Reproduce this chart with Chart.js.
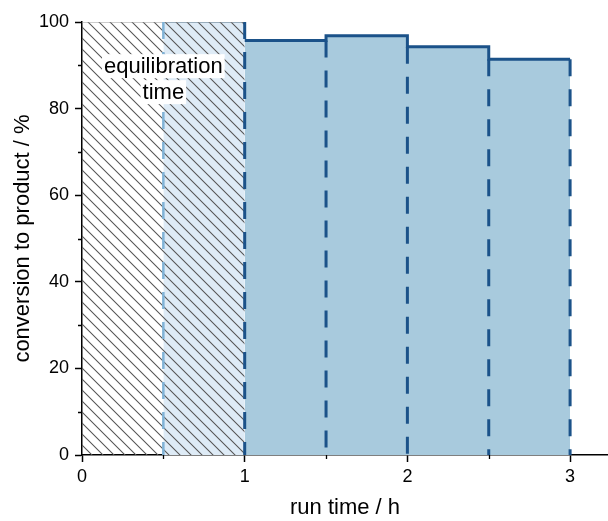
<!DOCTYPE html>
<html>
<head>
<meta charset="utf-8">
<script src="https://cdn.jsdelivr.net/npm/chart.js@4/dist/chart.umd.min.js"></script>
<style>
html,body{margin:0;padding:0;background:#fff;}
#wrap{width:608px;height:521px;}
</style>
</head>
<body>
<div id="wrap"><canvas id="c" width="608" height="521"></canvas></div>
<script>
// ---- data ----
const binStart = [1, 1.5, 2, 2.5];          // run time bin start / h
const binEnd = [1.5, 2, 2.5, 3];            // run time bin end / h
const conversion = [95.7, 96.8, 94.3, 91.4]; // conversion to product / %
const equilStart = [0, 0.5];                // equilibration period bins
const equilEnd = [0.5, 1];
const equilValue = [100, 100];
const xTickLabels = [0, 1, 2, 3];
const yTickLabels = [0, 20, 40, 60, 80, 100];
const xTitle = 'run time / h';
const yTitle = 'conversion to product / %';
const noteLines = ['equilibration', 'time'];

// ---- styles ----
const FONT = "'Liberation Sans', Arial, sans-serif";
const dark = '#1b5289';
const barFill = '#a8cadd';
const lightFill = '#deebf6';
const lightLine = '#80b3d7';

function hatch() {
  const s = 11;
  const c = document.createElement('canvas');
  c.width = s; c.height = s;
  const g = c.getContext('2d');
  g.strokeStyle = '#555';
  g.lineWidth = 1.05;
  g.beginPath();
  g.moveTo(0, 0); g.lineTo(s, s);
  g.moveTo(-1, s - 1); g.lineTo(1, s + 1);
  g.moveTo(s - 1, -1); g.lineTo(s + 1, 1);
  g.stroke();
  return g.createPattern(c, 'repeat');
}

// step outline of the measured bins
const stepPts = [];
binStart.forEach((b, i) => {
  stepPts.push({x: b, y: conversion[i]});
  stepPts.push({x: binEnd[i], y: conversion[i]});
});

// vertical dashed separators
const sepDatasets = [];
const sepX = [binStart[0]].concat(binEnd);
sepX.forEach((xv, k) => {
  let top;
  if (k === 0) top = equilValue[equilValue.length - 1];
  else {
    const left = conversion[k - 1];
    const right = k < conversion.length ? conversion[k] : left;
    top = Math.min(left, right);
  }
  sepDatasets.push({
    data: [{x: xv, y: top}, {x: xv, y: 0}],
    borderColor: dark, borderWidth: 3, borderDash: [17, 13],
    borderCapStyle: 'butt', pointRadius: 0, fill: false, order: 1
  });
});

const datasets = [
  { // light fill of second equilibration bin
    data: [{x: equilStart[1], y: equilValue[1]}, {x: equilEnd[1], y: equilValue[1]}],
    borderColor: lightLine, borderWidth: 1.5, backgroundColor: lightFill,
    fill: 'origin', pointRadius: 0, order: 20
  },
  { // hatched equilibration area
    data: [{x: equilStart[0], y: equilValue[0]}, {x: equilEnd[1], y: equilValue[1]}],
    borderColor: '#9a9a9a', borderWidth: 1, backgroundColor: hatch(),
    fill: 'origin', pointRadius: 0, order: 19
  },
  { // left dashed edge of second equilibration bin
    data: [{x: equilStart[1], y: equilValue[1]}, {x: equilStart[1], y: 0}],
    borderColor: lightLine, borderWidth: 2.5, borderDash: [17, 13],
    pointRadius: 0, fill: false, order: 18
  },
  { // measured bins
    data: stepPts,
    borderColor: dark, borderWidth: 3, backgroundColor: barFill,
    fill: 'origin', pointRadius: 0, order: 10, borderJoinStyle: 'miter'
  }
].concat(sepDatasets);

const minorTicks = {
  id: 'minorTicks',
  afterDraw(chart) {
    const {ctx, scales: {x, y}} = chart;
    ctx.save();
    ctx.strokeStyle = '#000';
    ctx.lineWidth = 1.3;
    ctx.beginPath();
    x.ticks.forEach(t => {
      if (!xTickLabels.includes(t.value)) {
        const px = Math.round(x.getPixelForValue(t.value)) + 0.5;
        ctx.moveTo(px, y.bottom); ctx.lineTo(px, y.bottom + 4);
      }
    });
    y.ticks.forEach(t => {
      if (!yTickLabels.includes(t.value)) {
        const py = Math.round(y.getPixelForValue(t.value)) + 0.5;
        ctx.moveTo(x.left, py); ctx.lineTo(x.left - 4, py);
      }
    });
    ctx.stroke();
    ctx.restore();
  }
};

const note = {
  id: 'note',
  afterDatasetsDraw(chart) {
    const {ctx, scales: {x, y}} = chart;
    const cx = x.getPixelForValue((equilStart[0] + equilEnd[1]) / 2);
    const ys = [y.getPixelForValue(89.8), y.getPixelForValue(83.8)];
    ctx.save();
    ctx.font = '22px ' + FONT;
    ctx.textAlign = 'center';
    ctx.textBaseline = 'middle';
    noteLines.forEach((t, i) => {
      const w = ctx.measureText(t).width;
      ctx.fillStyle = '#fff';
      ctx.fillRect(cx - w / 2 - 2, ys[i] - 12, w + 4, 24);
    });
    ctx.fillStyle = '#000';
    noteLines.forEach((t, i) => ctx.fillText(t, cx, ys[i] + 1));
    ctx.restore();
  }
};

new Chart(document.getElementById('c'), {
  type: 'line',
  data: {datasets},
  options: {
    responsive: false,
    animation: false,
    layout: {padding: {top: 22, right: 0, left: 0, bottom: 0}},
    plugins: {legend: {display: false}, tooltip: {enabled: false}},
    elements: {line: {tension: 0}},
    scales: {
      x: {
        type: 'linear', min: 0, max: 3.233,
        afterFit(s) { s.height = 66; },
        border: {display: true, color: '#000', width: 1.5},
        grid: {drawOnChartArea: false, drawTicks: true, tickLength: 7, tickWidth: 1.5,
               tickColor: c => (c.tick && xTickLabels.includes(c.tick.value)) ? '#000' : 'rgba(0,0,0,0)'},
        ticks: {stepSize: 0.5, includeBounds: false, autoSkip: false, maxRotation: 0, padding: 4,
                color: '#000', font: {family: FONT, size: 18},
                callback: v => xTickLabels.includes(v) ? String(v) : ''},
        title: {display: true, text: xTitle, color: '#000', font: {family: FONT, size: 22, lineHeight: 1.2},
                padding: {top: 0, bottom: 0}}
      },
      y: {
        type: 'linear', min: 0, max: 100,
        afterFit(s) { s.width = 82; },
        border: {display: true, color: '#000', width: 1.5},
        grid: {drawOnChartArea: false, drawTicks: true, tickLength: 7, tickWidth: 1.5,
               tickColor: c => (c.tick && yTickLabels.includes(c.tick.value)) ? '#000' : 'rgba(0,0,0,0)'},
        ticks: {stepSize: 10, autoSkip: false, padding: 6, color: '#000', font: {family: FONT, size: 18},
                callback: v => yTickLabels.includes(v) ? String(v) : ''},
        title: {display: true, text: yTitle, color: '#000', font: {family: FONT, size: 22, lineHeight: 1.2},
                padding: {top: 10, bottom: 0}}
      }
    }
  },
  plugins: [minorTicks, note]
});
</script>
</body>
</html>
